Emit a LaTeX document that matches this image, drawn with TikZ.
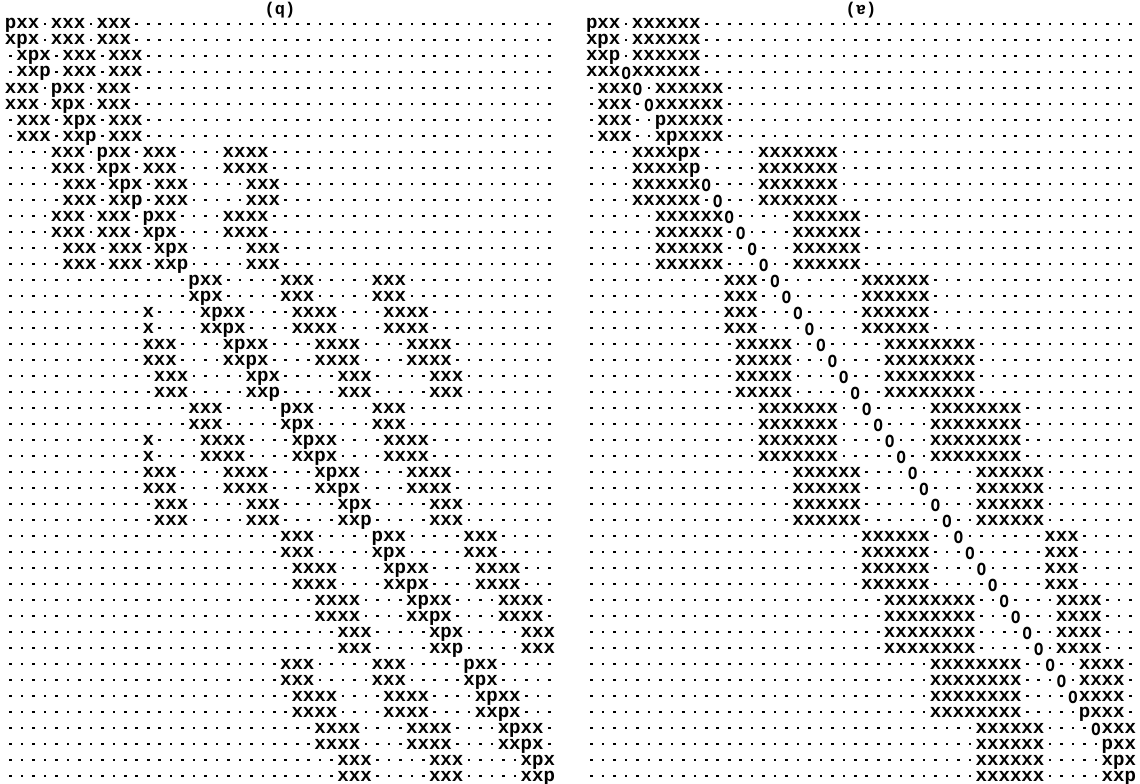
\documentclass[tikz,border=0pt]{standalone}
\usepackage{fontspec}
\newfontfamily\gridfont{Liberation Mono}
\def\cw{11.46}
\tikzset{
  glyph/.style={anchor=base west, inner sep=0pt, outer sep=0pt, fill=white,
    text height=8.5pt, text depth=2.8pt,
    font=\gridfont\bfseries\fontsize{19.1}{19.1}\selectfont},
  ttl/.style={inner sep=0pt, font=\gridfont\bfseries\fontsize{17}{17}\selectfont}
}
\newcommand\oo{\makebox[11.46pt][c]{\raisebox{-2.5pt}{\scalebox{0.85}[1.2]{o}}}}
\newcommand\gridpanel[2]{%
  \foreach \r in {1,...,48}{%
    \foreach \c in {0,...,47}{%
      \fill ({#1+(\c+0.5)*\cw-1.3},{25+16*(\r-1)-2.2}) rectangle ++(2.6,2.4);}}
  \foreach \r/\g in {#2}{%
    \foreach \c/\t in \g {%
      \node[glyph] at ({#1+\c*\cw},{25+16*(\r-1)+4}) {\t};}}
}
\begin{document}
\begin{tikzpicture}[x=1pt,y=-1pt]
\useasboundingbox (0,0) rectangle (1140,784);
\node[ttl] (tq) at (280,10) {(q)};
\node[ttl] (ta) at (861,10) {(\rotatebox[origin=c]{180}{a})};
\gridpanel{5}{
1/{0/pxx,4/xxx,8/xxx},
2/{0/xpx,4/xxx,8/xxx},
3/{1/xpx,5/xxx,9/xxx},
4/{1/xxp,5/xxx,9/xxx},
5/{0/xxx,4/pxx,8/xxx},
6/{0/xxx,4/xpx,8/xxx},
7/{1/xxx,5/xpx,9/xxx},
8/{1/xxx,5/xxp,9/xxx},
9/{4/xxx,8/pxx,12/xxx,19/xxxx},
10/{4/xxx,8/xpx,12/xxx,19/xxxx},
11/{5/xxx,9/xpx,13/xxx,21/xxx},
12/{5/xxx,9/xxp,13/xxx,21/xxx},
13/{4/xxx,8/xxx,12/pxx,19/xxxx},
14/{4/xxx,8/xxx,12/xpx,19/xxxx},
15/{5/xxx,9/xxx,13/xpx,21/xxx},
16/{5/xxx,9/xxx,13/xxp,21/xxx},
17/{16/pxx,24/xxx,32/xxx},
18/{16/xpx,24/xxx,32/xxx},
19/{12/x,17/xpxx,25/xxxx,33/xxxx},
20/{12/x,17/xxpx,25/xxxx,33/xxxx},
21/{12/xxx,19/xpxx,27/xxxx,35/xxxx},
22/{12/xxx,19/xxpx,27/xxxx,35/xxxx},
23/{13/xxx,21/xpx,29/xxx,37/xxx},
24/{13/xxx,21/xxp,29/xxx,37/xxx},
25/{16/xxx,24/pxx,32/xxx},
26/{16/xxx,24/xpx,32/xxx},
27/{12/x,17/xxxx,25/xpxx,33/xxxx},
28/{12/x,17/xxxx,25/xxpx,33/xxxx},
29/{12/xxx,19/xxxx,27/xpxx,35/xxxx},
30/{12/xxx,19/xxxx,27/xxpx,35/xxxx},
31/{13/xxx,21/xxx,29/xpx,37/xxx},
32/{13/xxx,21/xxx,29/xxp,37/xxx},
33/{24/xxx,32/pxx,40/xxx},
34/{24/xxx,32/xpx,40/xxx},
35/{25/xxxx,33/xpxx,41/xxxx},
36/{25/xxxx,33/xxpx,41/xxxx},
37/{27/xxxx,35/xpxx,43/xxxx},
38/{27/xxxx,35/xxpx,43/xxxx},
39/{29/xxx,37/xpx,45/xxx},
40/{29/xxx,37/xxp,45/xxx},
41/{24/xxx,32/xxx,40/pxx},
42/{24/xxx,32/xxx,40/xpx},
43/{25/xxxx,33/xxxx,41/xpxx},
44/{25/xxxx,33/xxxx,41/xxpx},
45/{27/xxxx,35/xxxx,43/xpxx},
46/{27/xxxx,35/xxxx,43/xxpx},
47/{29/xxx,37/xxx,45/xpx},
48/{29/xxx,37/xxx,45/xxp}}
\gridpanel{586}{
1/{0/pxx,4/xxxxxx},
2/{0/xpx,4/xxxxxx},
3/{0/xxp,4/xxxxxx},
4/{0/xxx\oo xxxxxx},
5/{1/xxx\oo,6/xxxxxx},
6/{1/xxx,5/\oo xxxxxx},
7/{1/xxx,6/pxxxxx},
8/{1/xxx,6/xpxxxx},
9/{4/xxxxpx,15/xxxxxxx},
10/{4/xxxxxp,15/xxxxxxx},
11/{4/xxxxxx\oo,15/xxxxxxx},
12/{4/xxxxxx,11/\oo,15/xxxxxxx},
13/{6/xxxxxx\oo,18/xxxxxx},
14/{6/xxxxxx,13/\oo,18/xxxxxx},
15/{6/xxxxxx,14/\oo,18/xxxxxx},
16/{6/xxxxxx,15/\oo,18/xxxxxx},
17/{12/xxx,16/\oo,24/xxxxxx},
18/{12/xxx,17/\oo,24/xxxxxx},
19/{12/xxx,18/\oo,24/xxxxxx},
20/{12/xxx,19/\oo,24/xxxxxx},
21/{13/xxxxx,20/\oo,26/xxxxxxxx},
22/{13/xxxxx,21/\oo,26/xxxxxxxx},
23/{13/xxxxx,22/\oo,26/xxxxxxxx},
24/{13/xxxxx,23/\oo,26/xxxxxxxx},
25/{15/xxxxxxx,24/\oo,30/xxxxxxxx},
26/{15/xxxxxxx,25/\oo,30/xxxxxxxx},
27/{15/xxxxxxx,26/\oo,30/xxxxxxxx},
28/{15/xxxxxxx,27/\oo,30/xxxxxxxx},
29/{18/xxxxxx,28/\oo,34/xxxxxx},
30/{18/xxxxxx,29/\oo,34/xxxxxx},
31/{18/xxxxxx,30/\oo,34/xxxxxx},
32/{18/xxxxxx,31/\oo,34/xxxxxx},
33/{24/xxxxxx,32/\oo,40/xxx},
34/{24/xxxxxx,33/\oo,40/xxx},
35/{24/xxxxxx,34/\oo,40/xxx},
36/{24/xxxxxx,35/\oo,40/xxx},
37/{26/xxxxxxxx,36/\oo,41/xxxx},
38/{26/xxxxxxxx,37/\oo,41/xxxx},
39/{26/xxxxxxxx,38/\oo,41/xxxx},
40/{26/xxxxxxxx,39/\oo,41/xxxx},
41/{30/xxxxxxxx,40/\oo,43/xxxx},
42/{30/xxxxxxxx,41/\oo,43/xxxx},
43/{30/xxxxxxxx,42/\oo xxxx},
44/{30/xxxxxxxx,43/pxxx},
45/{34/xxxxxx,44/\oo xxx},
46/{34/xxxxxx,45/pxx},
47/{34/xxxxxx,45/xpx},
48/{34/xxxxxx,45/xxp}}
\end{tikzpicture}
\end{document}
